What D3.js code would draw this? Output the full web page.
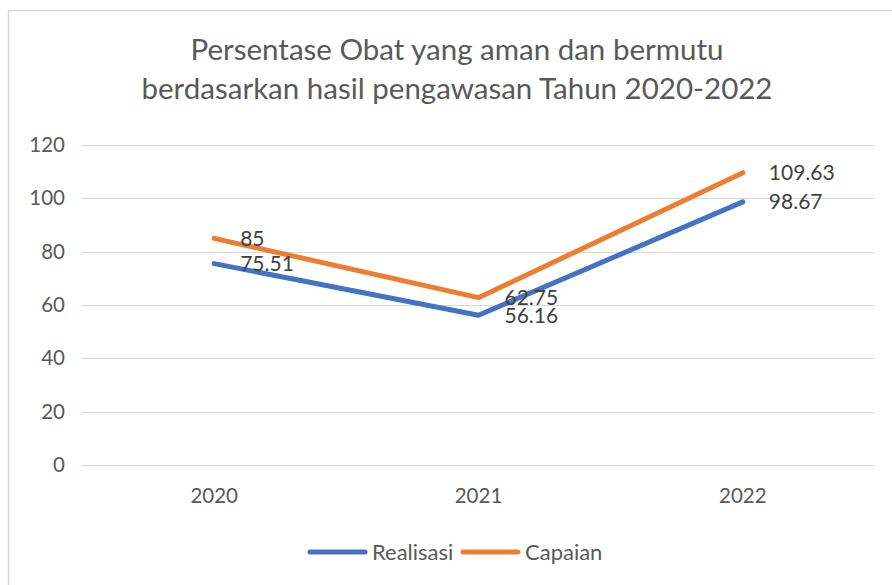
<!DOCTYPE html>
<html>
<head>
<meta charset="utf-8">
<script src="https://cdn.jsdelivr.net/npm/d3@7"></script>
<style>
  html, body { margin: 0; padding: 0; background: #fff; }
  svg { display: block; font-family: Lato, "Open Sans", sans-serif; }
</style>
</head>
<body>
<svg id="chart"></svg>
<script>
const years = ["2020", "2021", "2022"];
const realisasi = [75.51, 56.16, 98.67];
const capaian = [85, 62.75, 109.63];
const yTicks = [0, 20, 40, 60, 80, 100, 120];
const titleLines = ["Persentase Obat yang aman dan bermutu", "berdasarkan hasil pengawasan Tahun 2020-2022"];

const width = 892;
const height = 585;

const svg = d3.select("#chart")
    .attr("width", width)
    .attr("height", height);

// frame
svg.append("rect")
    .attr("x", 8.5)
    .attr("y", 10.5)
    .attr("width", 900)
    .attr("height", 600)
    .attr("fill", "#fff")
    .attr("stroke", "#d9d9d9")
    .attr("stroke-width", 1.5);

const textColor = "#595959";

svg.selectAll(".title")
    .data(titleLines)
    .enter()
    .append("text")
    .attr("class", "title")
    .attr("x", 457)
    .attr("y", (d, i) => 60 + i * 39)
    .attr("text-anchor", "middle")
    .attr("fill", textColor)
    .attr("font-size", 29.5)
    .text(d => d);

const x = d3.scaleBand()
    .domain(years)
    .range([82, 875]);

const y = d3.scaleLinear()
    .domain([0, 120])
    .range([465, 145]);

// grid
svg.append("g")
    .selectAll("line")
    .data(yTicks)
    .enter()
    .append("line")
    .attr("x1", 82)
    .attr("x2", 875)
    .attr("y1", d => Math.round(y(d)) + 0.5)
    .attr("y2", d => Math.round(y(d)) + 0.5)
    .attr("stroke", "#d9d9d9")
    .attr("stroke-width", 1.2);

const yAxis = svg.append("g")
    .attr("transform", "translate(65,0)")
    .call(d3.axisLeft(y).tickValues(yTicks).tickSize(0).tickPadding(0));
yAxis.select(".domain").remove();
yAxis.selectAll("text")
    .attr("fill", textColor)
    .attr("font-size", 20.5)
    .attr("font-family", "Lato, sans-serif");

const xAxis = svg.append("g")
    .attr("transform", "translate(0,465)")
    .call(d3.axisBottom(x).tickSize(0).tickPadding(23));
xAxis.select(".domain").remove();
xAxis.selectAll("text")
    .attr("fill", textColor)
    .attr("font-size", 20.5)
    .attr("font-family", "Lato, sans-serif");

const series = [
    { name: "Realisasi", values: realisasi, color: "#4472c4" },
    { name: "Capaian", values: capaian, color: "#ed7d31" }
];

const line = d3.line()
    .x((d, i) => x(years[i]) + x.bandwidth() / 2)
    .y(d => y(d));

series.forEach(s => {
    svg.append("path")
        .datum(s.values)
        .attr("d", line)
        .attr("fill", "none")
        .attr("stroke", s.color)
        .attr("stroke-width", 5)
        .attr("stroke-linecap", "round")
        .attr("stroke-linejoin", "round");
});

// data labels
series.forEach(s => {
    svg.append("g")
        .selectAll("text")
        .data(s.values)
        .enter()
        .append("text")
        .attr("x", (d, i) => x(years[i]) + x.bandwidth() / 2 + 26)
        .attr("y", d => y(d))
        .attr("dy", "0.35em")
        .attr("fill", "#404040")
        .attr("font-size", 21)
        .text(d => d);
});

// legend
const legend = svg.append("g")
    .attr("transform", "translate(0,552)");
const legendItems = [
    { name: "Realisasi", color: "#4472c4", x: 310 },
    { name: "Capaian", color: "#ed7d31", x: 463 }
];
legendItems.forEach(l => {
    legend.append("line")
        .attr("x1", l.x)
        .attr("x2", l.x + 55)
        .attr("y1", 0)
        .attr("y2", 0)
        .attr("stroke", l.color)
        .attr("stroke-width", 5)
        .attr("stroke-linecap", "round");
    legend.append("text")
        .attr("x", l.x + 62)
        .attr("y", 0)
        .attr("dy", "0.35em")
        .attr("fill", textColor)
        .attr("font-size", 22)
        .text(l.name);
});
</script>
</body>
</html>
